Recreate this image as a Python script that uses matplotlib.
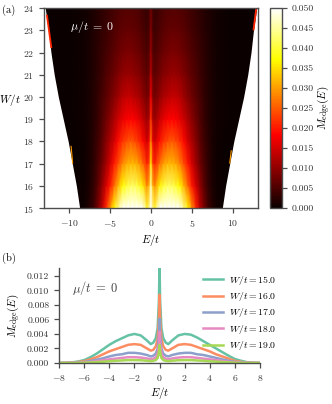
import numpy as np
import matplotlib
matplotlib.use('Agg')
import matplotlib.pyplot as plt

plt.rcParams['font.family'] = 'cmr10'
plt.rcParams['mathtext.fontset'] = 'cm'
plt.rcParams['axes.formatter.use_mathtext'] = True
plt.rcParams['font.size'] = 7
plt.rcParams['axes.unicode_minus'] = True

# ---- panel (a): M_edge(E) map, values read at half-band energies (symmetric in E)
E_half = [0, 0.25, 0.5, 1, 1.5, 2, 2.5, 3, 3.5, 4, 4.5, 5, 5.5, 6, 6.5, 7, 7.5, 8, 9, 10, 11, 12, 13.5]
W_rows = [15, 16, 17, 18, 19, 20, 21, 22, 23, 24]
M_map = [
    [0.056, 0.044, 0.040, 0.050, 0.055, 0.057, 0.057, 0.054, 0.050, 0.044, 0.037, 0.029, 0.021, 0.013, 0.008, 0.004, 0.002, 0.0006, 0, 0, 0, 0, 0],
    [0.046, 0.032, 0.029, 0.036, 0.040, 0.042, 0.042, 0.040, 0.037, 0.032, 0.026, 0.020, 0.015, 0.010, 0.006, 0.003, 0.0015, 0.0005, 0.0001, 0, 0, 0, 0],
    [0.036, 0.023, 0.021, 0.026, 0.030, 0.032, 0.032, 0.031, 0.028, 0.024, 0.020, 0.015, 0.011, 0.0075, 0.0048, 0.0027, 0.0013, 0.0005, 0.0001, 0, 0, 0, 0],
    [0.028, 0.017, 0.015, 0.019, 0.022, 0.024, 0.025, 0.024, 0.022, 0.019, 0.015, 0.012, 0.0092, 0.0062, 0.004, 0.0024, 0.0012, 0.0005, 0.0001, 0, 0, 0, 0],
    [0.022, 0.012, 0.011, 0.014, 0.0165, 0.018, 0.0185, 0.018, 0.0165, 0.0145, 0.012, 0.0095, 0.0074, 0.0052, 0.0034, 0.0021, 0.0012, 0.0006, 0.0002, 0.00005, 0, 0, 0],
    [0.017, 0.009, 0.008, 0.010, 0.012, 0.013, 0.014, 0.014, 0.013, 0.011, 0.0093, 0.0075, 0.006, 0.0045, 0.0031, 0.002, 0.0012, 0.0007, 0.0002, 0.00005, 0, 0, 0],
    [0.013, 0.0072, 0.0064, 0.0078, 0.0092, 0.010, 0.0106, 0.0106, 0.010, 0.0088, 0.0075, 0.0062, 0.0051, 0.0038, 0.0028, 0.0019, 0.0012, 0.0007, 0.0003, 0.0001, 0, 0, 0],
    [0.0105, 0.0058, 0.005, 0.0062, 0.0073, 0.008, 0.0084, 0.0084, 0.008, 0.0072, 0.0062, 0.0052, 0.0043, 0.0034, 0.0026, 0.0018, 0.0012, 0.0007, 0.0003, 0.0001, 0.00003, 0, 0],
    [0.0088, 0.0048, 0.0041, 0.005, 0.0059, 0.0065, 0.0068, 0.0068, 0.0065, 0.0059, 0.0052, 0.0044, 0.0037, 0.003, 0.0023, 0.0016, 0.0011, 0.0007, 0.0003, 0.0001, 0.00004, 0, 0],
    [0.0075, 0.0041, 0.0035, 0.0042, 0.0049, 0.0054, 0.0056, 0.0056, 0.0054, 0.0049, 0.0044, 0.0038, 0.0032, 0.0026, 0.002, 0.0014, 0.001, 0.0006, 0.0003, 0.0001, 0.00004, 0, 0],
]
# band edge |E| for each W row (outside is empty / white)
band_edge = [8.7, 9.1, 9.6, 10.1, 10.7, 11.3, 11.8, 12.2, 12.5, 12.9]
# bright edge states along the band edge
glow_left_E, glow_left_W = [-12.15, -12.7], [22.2, 23.7]
glow_right_E, glow_right_W = [12.5, 12.85], [23.0, 24.0]
spot_left_E, spot_left_W = [-9.55, -9.75], [17.0, 17.8]
spot_right_E, spot_right_W = [9.6, 9.8], [17.0, 17.6]

# ---- panel (b): M_edge(E) cuts
E_cut = [-8, -7.5, -7, -6.5, -6, -5.5, -5, -4.5, -4, -3.5, -3, -2.5, -2, -1.5, -1, -0.7, -0.5, -0.3, -0.15, -0.05,
         0, 0.05, 0.15, 0.3, 0.5, 0.7, 1, 1.5, 2, 2.5, 3, 3.5, 4, 4.5, 5, 5.5, 6, 6.5, 7, 7.5, 8]
W_cut = [15.0, 16.0, 17.0, 18.0, 19.0]
M_w15 = [0, 0.00002, 0.00008, 0.0002, 0.0004, 0.0008, 0.0013, 0.0019, 0.0025, 0.0030, 0.0034, 0.0038, 0.0040, 0.0038, 0.0031, 0.0026, 0.0028, 0.0034, 0.0048, 0.0085,
         0.0131, 0.0085, 0.0048, 0.0034, 0.0028, 0.0026, 0.0031, 0.0038, 0.0040, 0.0039, 0.0035, 0.0030, 0.0025, 0.0020, 0.0015, 0.0010, 0.00055, 0.0003, 0.0001, 0.00003, 0]
M_w16 = [0, 0.00001, 0.00005, 0.00013, 0.00026, 0.0005, 0.0008, 0.0012, 0.0016, 0.0019, 0.0022, 0.0025, 0.0026, 0.0025, 0.0020, 0.0017, 0.0018, 0.0023, 0.0033, 0.0060,
         0.0094, 0.0060, 0.0033, 0.0023, 0.0018, 0.0017, 0.0020, 0.0025, 0.0026, 0.0025, 0.0022, 0.0019, 0.0016, 0.0012, 0.0009, 0.0006, 0.0003, 0.00015, 0.00005, 0.00001, 0]
M_w17 = [0, 0, 0.00003, 0.00007, 0.00014, 0.00027, 0.00045, 0.00065, 0.0009, 0.0011, 0.0012, 0.0014, 0.0014, 0.0013, 0.0011, 0.0009, 0.0010, 0.0013, 0.0020, 0.0038,
         0.0061, 0.0038, 0.0020, 0.0013, 0.0010, 0.0009, 0.0011, 0.0013, 0.0014, 0.0014, 0.0012, 0.0011, 0.0009, 0.0007, 0.0005, 0.0003, 0.00016, 0.00008, 0.00003, 0, 0]
M_w18 = [0, 0, 0.00002, 0.00004, 0.00008, 0.00015, 0.00025, 0.00037, 0.0005, 0.0006, 0.0007, 0.0008, 0.0008, 0.00075, 0.00062, 0.00052, 0.00058, 0.00078, 0.0013, 0.0026,
         0.0043, 0.0026, 0.0013, 0.00078, 0.00058, 0.00052, 0.00062, 0.00075, 0.0008, 0.0008, 0.0007, 0.0006, 0.0005, 0.0004, 0.00028, 0.00017, 0.00009, 0.00004, 0.00002, 0, 0]
M_w19 = [0, 0, 0.00001, 0.00002, 0.00004, 0.00007, 0.00012, 0.00018, 0.00024, 0.0003, 0.00035, 0.0004, 0.0004, 0.00038, 0.00031, 0.00026, 0.0003, 0.0004, 0.0007, 0.0015,
         0.0025, 0.0015, 0.0007, 0.0004, 0.0003, 0.00026, 0.00031, 0.00038, 0.0004, 0.0004, 0.00035, 0.0003, 0.00024, 0.00019, 0.00013, 0.00008, 0.00004, 0.00002, 0.00001, 0, 0]
cut_colors = ['#66c2a5', '#fc8d62', '#8da0cb', '#e78ac3', '#a6d854']

spine_c = '0.3'
fig = plt.figure(figsize=(3.32, 4.04), dpi=100)
ax = fig.add_axes([0.1325, 0.485, 0.6445, 0.495])
cax = fig.add_axes([0.813, 0.485, 0.036, 0.495])
bx = fig.add_axes([0.178, 0.1015, 0.605, 0.2355])

E_half = np.array(E_half)
Z = np.array(M_map)
E_full = np.concatenate([-E_half[::-1], E_half[1:]])
Z_full = np.hstack([Z[:, ::-1], Z[:, 1:]])
mesh = ax.pcolormesh(E_full, W_rows, Z_full, shading='gouraud', cmap='hot', vmin=0, vmax=0.05,
                     rasterized=True)
edge = np.array(band_edge)
ax.fill_betweenx(W_rows, edge, 14, color='white', lw=0)
ax.fill_betweenx(W_rows, -14, -edge, color='white', lw=0)
hot = plt.get_cmap('hot')
ax.plot(glow_left_E, glow_left_W, color=hot(0.42), lw=1.3, solid_capstyle='butt')
ax.plot(glow_right_E, glow_right_W, color=hot(0.42), lw=1.3, solid_capstyle='butt')
ax.plot(spot_left_E, spot_left_W, color=hot(0.6), lw=0.8, solid_capstyle='butt')
ax.plot(spot_right_E, spot_right_W, color=hot(0.6), lw=0.8, solid_capstyle='butt')
ax.set_xlim(-13.05, 13.05)
ax.set_ylim(15, 24)
ax.set_xticks([-10, -5, 0, 5, 10])
ax.set_yticks(range(15, 25))
ax.set_xlabel(r'$E/t$', fontsize=8, labelpad=2)
ax.set_ylabel(r'$W/t$', fontsize=8, rotation=0, labelpad=9)
ax.text(-9.9, 23.15, r'$\mu/t\;=\;0$', color='white', fontsize=8.5, va='center')

cb = fig.colorbar(mesh, cax=cax, ticks=np.arange(0, 0.0501, 0.005), format='%.3f')
cb.set_label(r'$M_{\rm edge}(E)$', fontsize=8, labelpad=1)
cb.outline.set_edgecolor(spine_c)

for W, M, c in zip(W_cut, [M_w15, M_w16, M_w17, M_w18, M_w19], cut_colors):
    bx.plot(E_cut, M, color=c, lw=1.8, label=r'$W/t = %.1f$' % W)
bx.set_xlim(-8, 8)
bx.set_ylim(0, 0.0131)
bx.set_xticks(range(-8, 9, 2))
bx.set_yticks(np.arange(0, 0.0121, 0.002))
bx.yaxis.set_major_formatter(matplotlib.ticker.FormatStrFormatter('%.3f'))
bx.set_xlabel(r'$E/t$', fontsize=8, labelpad=2)
bx.set_ylabel(r'$M_{\rm edge}(E)$', fontsize=8, labelpad=4)
bx.spines['top'].set_visible(False)
bx.spines['right'].set_visible(False)
bx.text(0.065, 0.79, r'$\mu/t\;=\;0$', transform=bx.transAxes, color='0.25', fontsize=9, va='center')
bx.legend(loc='upper right', bbox_to_anchor=(1.1, 0.98), frameon=False, fontsize=7,
          handlelength=2.0, labelspacing=0.35, handletextpad=0.6, borderaxespad=0)

for a in (ax, cax, bx):
    for s in a.spines.values():
        s.set_color(spine_c)
        s.set_linewidth(1.0)
    a.tick_params(direction='out', length=3.5, width=0.9, color=spine_c, labelcolor='0.2', labelsize=7)

fig.text(0.005, 0.975, '(a)', fontsize=7.5, va='center')
fig.text(0.005, 0.36, '(b)', fontsize=7.5, va='center')

fig.savefig('out.png', dpi=100)
